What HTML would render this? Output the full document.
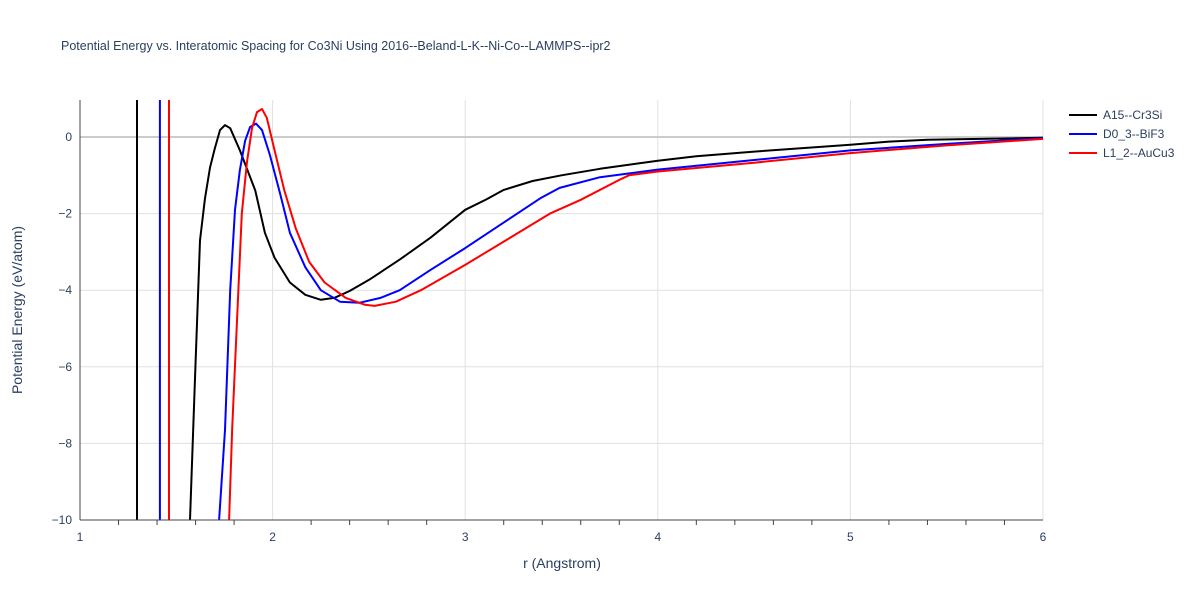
<!DOCTYPE html>
<html><head><meta charset="utf-8"><style>html,body{margin:0;background:#fff;overflow:hidden;width:1200px;height:600px}svg{display:block;font-family:"Liberation Sans",sans-serif}</style></head>
<body>
<svg id="chart" width="1200" height="600" viewBox="0 0 1200 600" xmlns="http://www.w3.org/2000/svg">
<defs><clipPath id="clip"><rect x="80" y="100" width="963" height="420"/></clipPath></defs>
<text x="61" y="50" font-size="12.5" fill="#2a3f5f">Potential Energy vs. Interatomic Spacing for Co3Ni Using 2016--Beland-L-K--Ni-Co--LAMMPS--ipr2</text>
<g id="grid"></g>
<g id="series" clip-path="url(#clip)"></g>
<g id="axes"></g>
<text x="562" y="568" font-size="14" fill="#2a3f5f" text-anchor="middle">r (Angstrom)</text>
<text transform="translate(22,310) rotate(-90)" font-size="14" fill="#2a3f5f" text-anchor="middle">Potential Energy (eV/atom)</text>
<g id="legend"></g>
</svg>
<script>
const xTicks=[1,2,3,4,5,6];
const yTicks=[0,-2,-4,-6,-8,-10];
const seriesNames=["A15--Cr3Si","D0_3--BiF3","L1_2--AuCu3"];
const seriesColors=["#000000","#0000ff","#ff0000"];
const a15R=[1.296,1.297,1.56,1.571,1.597,1.623,1.649,1.675,1.70,1.727,1.753,1.78,1.83,1.91,1.96,2.01,2.09,2.17,2.25,2.32,2.40,2.50,2.66,2.82,3.0,3.11,3.2,3.35,3.5,3.7,4.0,4.2,4.5,5.0,5.2,5.4,6.0];
const a15E=[5,-300,-30,-10,-6.3,-2.7,-1.6,-0.8,-0.3,0.18,0.31,0.23,-0.35,-1.4,-2.5,-3.15,-3.8,-4.12,-4.25,-4.2,-4.02,-3.73,-3.2,-2.63,-1.9,-1.63,-1.38,-1.15,-1.0,-0.83,-0.62,-0.5,-0.38,-0.2,-0.12,-0.07,-0.02];
const d03R=[1.415,1.416,1.71,1.722,1.753,1.78,1.805,1.83,1.857,1.883,1.914,1.945,1.986,2.04,2.09,2.17,2.25,2.35,2.45,2.56,2.66,2.82,3.0,3.18,3.39,3.49,3.7,4.0,4.5,5.0,5.5,6.0];
const d03E=[5,-300,-30,-10,-7.65,-4.0,-1.9,-0.86,-0.1,0.26,0.35,0.18,-0.47,-1.5,-2.5,-3.4,-4.0,-4.3,-4.33,-4.2,-4.0,-3.47,-2.9,-2.3,-1.6,-1.33,-1.05,-0.85,-0.6,-0.35,-0.18,-0.03];
const l12R=[1.462,1.463,1.76,1.774,1.79,1.815,1.84,1.867,1.893,1.919,1.945,1.97,2.01,2.06,2.12,2.19,2.27,2.38,2.48,2.53,2.64,2.77,3.0,3.23,3.44,3.6,3.8,3.85,4.0,4.5,5.0,5.5,6.0];
const l12E=[5,-300,-30,-10,-7.6,-4.8,-2.0,-0.65,0.23,0.65,0.73,0.5,-0.34,-1.38,-2.38,-3.26,-3.8,-4.2,-4.38,-4.41,-4.3,-4.0,-3.34,-2.64,-2.0,-1.64,-1.12,-1.0,-0.9,-0.67,-0.42,-0.22,-0.05];
const NS="http://www.w3.org/2000/svg";
const X=r=>80+(r-1)*192.6, Y=e=>137-e*38.3;
function mk(t,a,p){const el=document.createElementNS(NS,t);for(const k in a)el.setAttribute(k,a[k]);p.appendChild(el);return el;}
const grid=document.getElementById('grid'),axes=document.getElementById('axes');
xTicks.forEach(t=>{const l=mk('line',{x1:X(t),x2:X(t),y1:100,y2:520,stroke:'#e0e0e0'},grid);

const tx=mk('text',{x:X(t),y:541,'font-size':12,fill:'#2a3f5f','text-anchor':'middle'},axes);tx.textContent=t;
});
for(let i=0;i<5;i++){for(let j=1;j<5;j++){const m=mk('line',{x1:X(1+i+j*0.2),x2:X(1+i+j*0.2),y1:520,y2:525,stroke:'#444'},axes);
}}
yTicks.forEach(t=>{const l=mk('line',{x1:80,x2:1043,y1:Y(t),y2:Y(t),stroke:t===0?'#cccccc':'#e0e0e0','stroke-width':t===0?2:1},grid);

const tx=mk('text',{x:72,y:Y(t)+4,'font-size':12,fill:'#2a3f5f','text-anchor':'end'},axes);tx.textContent=t===0?'0':'−'+Math.abs(t);
});
const ax=mk('line',{x1:80,x2:1043,y1:520,y2:520,stroke:'#444'},axes);
const ay=mk('line',{x1:80,x2:80,y1:100,y2:520,stroke:'#444'},axes);
const sg=document.getElementById('series'),lg=document.getElementById('legend');
[[a15R,a15E],[d03R,d03E],[l12R,l12E]].forEach((s,i)=>{
const d=s[0].map((r,k)=>(k?'L':'M')+X(r).toFixed(1)+','+Y(s[1][k]).toFixed(1)).join('');
const p=mk('path',{d:d,fill:'none',stroke:seriesColors[i],'stroke-width':2,'stroke-linejoin':'round'},sg);

const y=115+i*19;
const g=mk('g',{},lg);
mk('line',{x1:1069,x2:1097,y1:y,y2:y,stroke:seriesColors[i],'stroke-width':2},g);
const t=mk('text',{x:1103,y:y+4,'font-size':12,fill:'#2a3f5f'},g);t.textContent=seriesNames[i];});
</script>
</body></html>
